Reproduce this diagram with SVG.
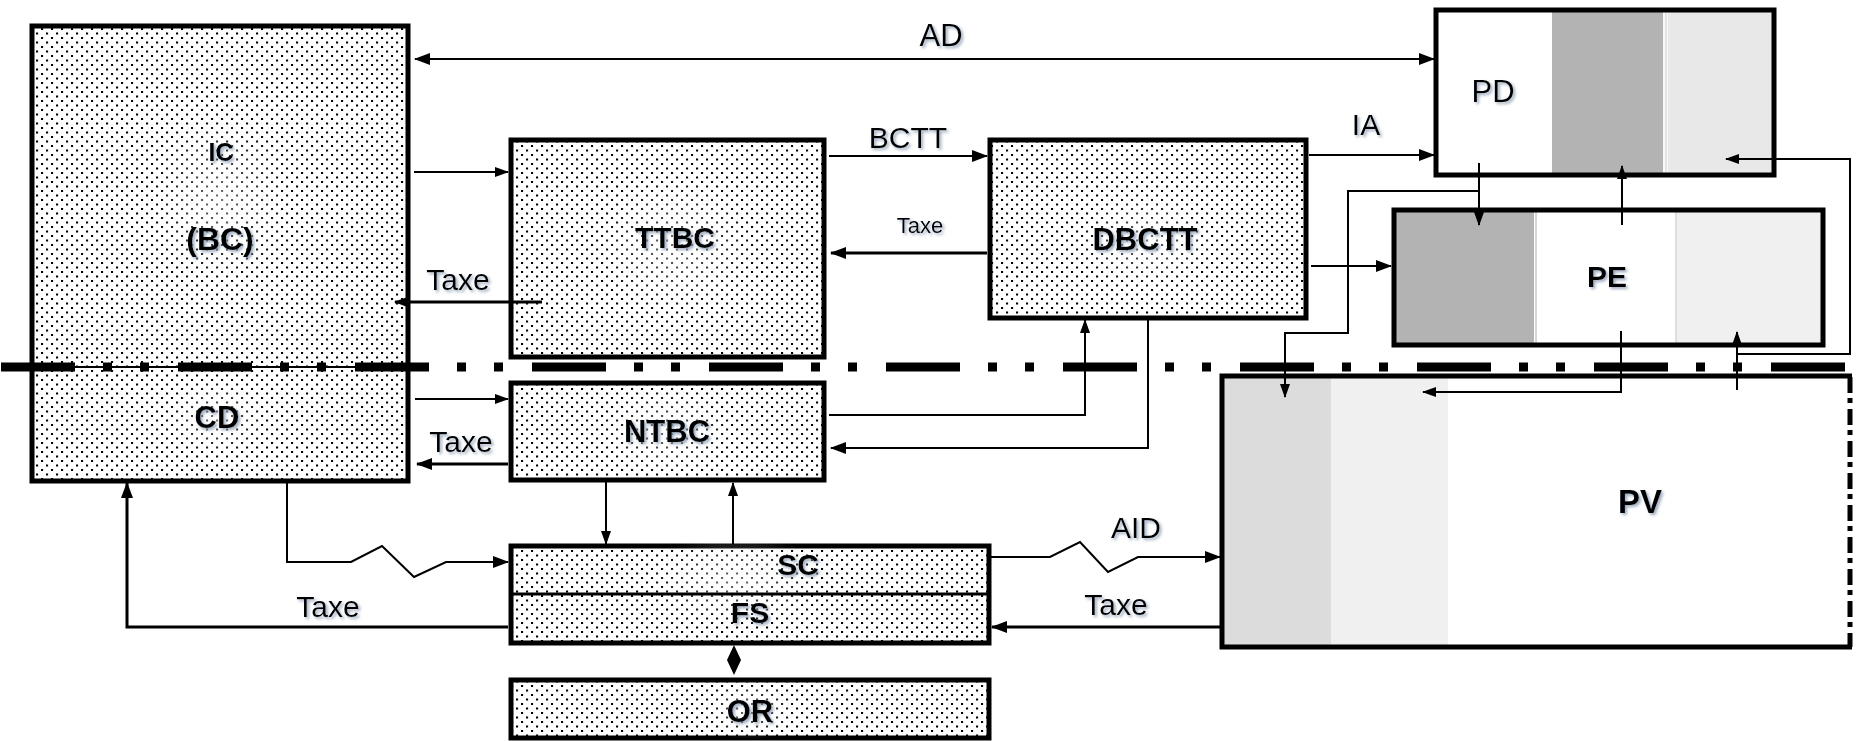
<svg xmlns="http://www.w3.org/2000/svg" width="1861" height="741" viewBox="0 0 1861 741">
<defs>
<pattern id="dots" width="10" height="9" patternUnits="userSpaceOnUse">
<rect width="10" height="9" fill="#fff"/>
<rect x="1" y="1" width="2.1" height="2" fill="#000"/>
<rect x="6" y="5.5" width="2.1" height="2" fill="#000"/>
</pattern>
<radialGradient id="halo" cx="0.5" cy="0.5" r="0.5">
<stop offset="0" stop-color="#fff" stop-opacity="0.45"/>
<stop offset="1" stop-color="#fff" stop-opacity="0"/>
</radialGradient>
<filter id="sh" x="-20%" y="-30%" width="140%" height="160%">
<feGaussianBlur in="SourceAlpha" stdDeviation="1.6" result="b"/>
<feOffset in="b" dx="1.5" dy="1.5" result="o"/>
<feFlood flood-color="#7d8fa8" flood-opacity="0.75"/>
<feComposite in2="o" operator="in" result="s"/>
<feMerge><feMergeNode in="s"/><feMergeNode in="SourceGraphic"/></feMerge>
</filter>
<marker id="ar" markerUnits="userSpaceOnUse" markerWidth="16" markerHeight="12" refX="15" refY="6" orient="auto-start-reverse">
<path d="M0,0 L16,6 L0,12 z" fill="#000"/>
</marker>
<marker id="as" markerUnits="userSpaceOnUse" markerWidth="14" markerHeight="10" refX="13" refY="5" orient="auto-start-reverse">
<path d="M0,0 L14,5 L0,10 z" fill="#000"/>
</marker>
</defs>
<style>
.box{fill:url(#dots);stroke:#000;stroke-width:5}
.frame{fill:none;stroke:#000;stroke-width:5}
.ln{fill:none;stroke:#000;stroke-width:2}
.tx{fill:none;stroke:#000;stroke-width:3}
text{font-family:"Liberation Sans",Arial,sans-serif;fill:#000;text-anchor:middle}
.b{font-weight:bold;filter:url(#sh)}
.n{font-weight:normal;filter:url(#sh)}
</style>
<rect width="1861" height="741" fill="#fff"/>

<g id="node-ic-cd">
<rect class="box" x="32" y="26" width="376" height="455"/>
<ellipse cx="220" cy="200" rx="70" ry="90" fill="url(#halo)"/>
<ellipse cx="217" cy="418" rx="50" ry="40" fill="url(#halo)"/>
<line x1="32" y1="367" x2="408" y2="367" stroke="#000" stroke-width="2"/>
<text class="b" x="221" y="161" font-size="25">IC</text>
<text class="b" x="220" y="250" font-size="32">(BC)</text>
<text class="b" x="217" y="428" font-size="31">CD</text>
</g>

<g id="node-ttbc">
<rect class="box" x="511" y="140" width="313" height="217"/>
<ellipse cx="675" cy="245" rx="80" ry="70" fill="url(#halo)"/>
<text class="b" x="675" y="248" font-size="30">TTBC</text>
</g>

<g id="node-dbctt">
<rect class="box" x="990" y="140" width="316" height="178"/>
<ellipse cx="1145" cy="240" rx="70" ry="50" fill="url(#halo)"/>
<text class="b" x="1145" y="250" font-size="31">DBCTT</text>
</g>

<g id="node-ntbc">
<rect class="box" x="511" y="383" width="313" height="97"/>
<ellipse cx="667" cy="432" rx="65" ry="45" fill="url(#halo)"/>
<text class="b" x="667" y="442" font-size="31">NTBC</text>
</g>

<g id="node-sc-fs">
<rect class="box" x="511" y="546" width="478" height="97"/>
<ellipse cx="735" cy="580" rx="90" ry="45" fill="url(#halo)"/>
<line x1="511" y1="594" x2="989" y2="594" stroke="#000" stroke-width="3"/>
<text class="b" x="798" y="575" font-size="30">SC</text>
<text class="b" x="750" y="623" font-size="30">FS</text>
</g>

<g id="node-or">
<rect class="box" x="511" y="680" width="478" height="58"/>
<ellipse cx="750" cy="710" rx="45" ry="30" fill="url(#halo)"/>
<text class="b" x="750" y="722" font-size="31">OR</text>
</g>

<g id="node-pd">
<rect x="1436" y="10" width="116" height="165" fill="#fff"/>
<rect x="1552" y="10" width="111" height="165" fill="#b3b3b3"/>
<rect x="1663" y="10" width="5" height="165" fill="#f8f8f8"/>
<line x1="1666" y1="10" x2="1666" y2="175" stroke="#d0d0d0" stroke-width="1"/>
<rect x="1668" y="10" width="106" height="165" fill="#e8e8e8"/>
<rect class="frame" x="1436" y="10" width="338" height="165"/>
<text class="n" x="1493" y="102" font-size="31">PD</text>
</g>

<g id="node-pe">
<rect x="1394" y="210" width="140" height="135" fill="#b3b3b3"/>
<rect x="1534" y="210" width="142" height="135" fill="#fff"/>
<line x1="1536" y1="210" x2="1536" y2="345" stroke="#c8c8c8" stroke-width="1.5"/>
<line x1="1676" y1="210" x2="1676" y2="345" stroke="#bdbdbd" stroke-width="1"/>
<rect x="1677" y="210" width="146" height="135" fill="#f0f0f0"/>
<rect class="frame" x="1394" y="210" width="429" height="135"/>
<text class="b" x="1607" y="287" font-size="30">PE</text>
</g>

<g id="node-pv">
<rect x="1222" y="376" width="109" height="271" fill="#dcdcdc"/>
<rect x="1331" y="376" width="117" height="271" fill="#f0f0f0"/>
<path class="frame" d="M1852,376 L1222,376 L1222,647 L1852,647"/>
<line x1="1850" y1="377" x2="1850" y2="647" stroke="#000" stroke-width="5" stroke-dasharray="16 5 5 6"/>
<text class="b" x="1640" y="513" font-size="33">PV</text>
</g>

<g id="separator">
<line x1="1" y1="367" x2="1847" y2="367" stroke="#000" stroke-width="9" stroke-dasharray="74 28 9 28 9 29"/>
</g>

<g id="connectors">
<line class="ln" x1="415" y1="59" x2="1434" y2="59" marker-start="url(#ar)" marker-end="url(#ar)"/>
<line class="ln" x1="414" y1="172" x2="508" y2="172" marker-end="url(#as)"/>
<line class="tx" x1="542" y1="302" x2="395" y2="302" marker-end="url(#ar)"/>
<line class="ln" x1="829" y1="156" x2="987" y2="156" marker-end="url(#ar)"/>
<line class="tx" x1="987" y1="253" x2="831" y2="253" marker-end="url(#ar)"/>
<line class="ln" x1="1309" y1="155" x2="1434" y2="155" marker-end="url(#ar)"/>
<line class="ln" x1="1311" y1="266" x2="1391" y2="266" marker-end="url(#ar)"/>
<line class="ln" x1="415" y1="399" x2="508" y2="399" marker-end="url(#as)"/>
<line class="tx" x1="508" y1="464" x2="417" y2="464" marker-end="url(#ar)"/>
<polyline class="ln" points="829,415 1085,415 1085,320" marker-end="url(#as)"/>
<polyline class="ln" points="1148,320 1148,448 831,448" marker-end="url(#ar)"/>
<line class="ln" x1="1479" y1="163" x2="1479" y2="225" marker-end="url(#as)"/>
<polyline class="ln" points="1479,191 1348,191 1348,333 1285,333 1285,397" marker-end="url(#as)"/>
<line class="ln" x1="1622" y1="225" x2="1622" y2="166" marker-end="url(#as)"/>
<polyline class="ln" points="1621,331 1621,392 1423,392" marker-end="url(#as)"/>
<line class="ln" x1="1737" y1="390" x2="1737" y2="332" marker-end="url(#as)"/>
<polyline class="ln" points="1737,354 1850,354 1850,159 1726,159" marker-end="url(#as)"/>
<polyline class="ln" points="287,481 287,562 351,562 382,546 414,577 446,562 508,562" marker-end="url(#ar)"/>
<polyline class="tx" points="508,627 127,627 127,483" marker-end="url(#ar)"/>
<line class="ln" x1="606" y1="481" x2="606" y2="544" marker-end="url(#as)"/>
<line class="ln" x1="733" y1="544" x2="733" y2="483" marker-end="url(#as)"/>
<path d="M734,645 L741,660 L734,675 L727,660 z" fill="#000"/>
<polyline class="ln" points="991,557 1050,557 1080,542 1108,572 1138,557 1220,557" marker-end="url(#ar)"/>
<line class="tx" x1="1220" y1="627" x2="992" y2="627" marker-end="url(#ar)"/>
</g>

<g id="labels">
<text class="n" x="941" y="46" font-size="31">AD</text>
<text class="n" x="908" y="148" font-size="30">BCTT</text>
<text class="n" x="1366" y="135" font-size="30">IA</text>
<text class="n" x="920" y="233" font-size="22">Taxe</text>
<text class="n" x="458" y="290" font-size="30">Taxe</text>
<text class="n" x="461" y="452" font-size="30">Taxe</text>
<text class="n" x="328" y="617" font-size="30">Taxe</text>
<text class="n" x="1136" y="538" font-size="30">AID</text>
<text class="n" x="1116" y="615" font-size="30">Taxe</text>
</g>
</svg>
